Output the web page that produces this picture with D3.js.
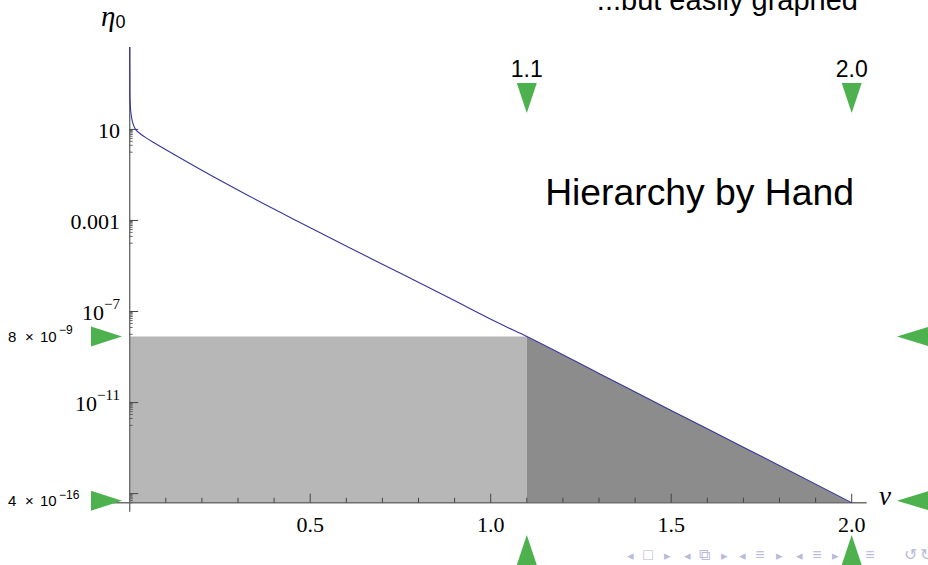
<!DOCTYPE html>
<html lang="en">
<head>
  <meta charset="UTF-8">
  <script src="https://d3js.org/d3.v7.min.js"></script>
  <style>
    body { margin: 0; background: #fff; }
    .serif { font-family: "Liberation Serif", "DejaVu Serif", serif; }
    .sans { font-family: "Liberation Sans", Arial, sans-serif; }
  </style>
  <title>Hierarchy by Hand</title>
</head>
<body>
  <svg id="chart" width="928" height="565"></svg>
  <script>
    // curve eta0(nu)
    var nu  = [0.00014, 0.00055, 0.00166, 0.00416, 0.00776, 0.0147, 0.0285, 0.0424, 0.0701, 0.1255, 0.1947, 0.3332, 0.4718, 0.6103, 0.7488, 0.8873, 1.0258, 1.1, 1.3, 1.5, 1.7, 2.0];
    var eta = [4.17e4, 540, 118, 43, 21.2, 11.0, 6.6, 4.6, 2.46, 0.75, 0.177, 0.0113, 8.15e-4, 6.2e-5, 4.9e-6, 3.8e-7, 2.9e-8, 8e-9, 1.9e-10, 4.5e-12, 1.1e-13, 4e-16];

    var xTicks = [0.5, 1.0, 1.5, 2.0];
    var xMinor = [0.1, 0.2, 0.3, 0.4, 0.6, 0.7, 0.8, 0.9, 1.1, 1.2, 1.3, 1.4, 1.6, 1.7, 1.8, 1.9];
    var yExp = [1, -3, -7, -11, -15];
    var yLabels = [["10", ""], ["0.001", ""], ["10", "\u22127"], ["10", "\u221211"], null];

    // highlighted values
    var nuMarks = [1.1, 2.0];
    var nuMarkLabels = ["1.1", "2.0"];
    var etaMarks = [8e-9, 4e-16];
    var etaMarkLabels = [["8", "10", "\u22129"], ["4", "10", "\u221216"]];

    var navGlyphs = ["\u25c2", "\u25a1", "\u25b8", "\u25c2", "\u29c9", "\u25b8", "\u25c2", "\u2261", "\u25b8", "\u25c2", "\u2261", "\u25b8", "\u2261", "\u21ba", "\u21bb"];
    var navX = [630, 648, 667, 687, 704, 724, 742, 760, 779, 799, 817, 835, 870, 910, 926];

    var svg = d3.select("#chart");
    var green = "#4db24d";

    var x = d3.scaleLinear().domain([0, 2.0]).range([129.7, 851.7]);
    var y = d3.scaleLog().domain([4e-16, Math.pow(10, 4.62)]).range([502.7, 47]);

    var pts = nu.map(function (d, i) { return [d, eta[i]]; });
    var base = y.domain()[0];

    // light grey box up to 8e-9 left of nu = 1.1
    svg.append("rect")
      .attr("x", x(0))
      .attr("y", y(etaMarks[0]))
      .attr("width", x(nuMarks[0]) - x(0))
      .attr("height", y(base) - y(etaMarks[0]))
      .attr("fill", "#b7b7b7");

    // dark grey under curve from 1.1 to 2.0
    var area = d3.area()
      .x(function (d) { return x(d[0]); })
      .y0(y(base))
      .y1(function (d) { return y(d[1]); });
    svg.append("path")
      .datum(pts.filter(function (d) { return d[0] >= nuMarks[0]; }))
      .attr("d", area)
      .attr("fill", "#8c8c8c");

    // axes
    var axisCol = "#6e6e6e";
    svg.append("line")
      .attr("x1", 113).attr("x2", 866.7)
      .attr("y1", y(base)).attr("y2", y(base))
      .attr("stroke", axisCol).attr("stroke-width", 1.4);
    svg.append("line")
      .attr("x1", x(0)).attr("x2", x(0))
      .attr("y1", 47).attr("y2", 511.7)
      .attr("stroke", axisCol).attr("stroke-width", 1.4);

    // x ticks
    svg.selectAll(".xminor").data(xMinor).enter().append("line")
      .attr("x1", x).attr("x2", x)
      .attr("y1", y(base)).attr("y2", y(base) - 5)
      .attr("stroke", "#444").attr("stroke-width", 1);
    svg.selectAll(".xmajor").data(xTicks).enter().append("line")
      .attr("x1", x).attr("x2", x)
      .attr("y1", y(base)).attr("y2", y(base) - 9)
      .attr("stroke", "#444").attr("stroke-width", 1);
    svg.selectAll(".xlab").data(xTicks).enter().append("text")
      .attr("class", "serif")
      .attr("x", x).attr("y", 531.7)
      .attr("text-anchor", "middle")
      .attr("font-size", 22)
      .text(function (d) { return d.toFixed(1); });

    // y ticks: major + log minor ticks below each
    yExp.forEach(function (k, i) {
      var v = Math.pow(10, k);
      svg.append("line")
        .attr("x1", x(0)).attr("x2", x(0) + 8.5)
        .attr("y1", y(v)).attr("y2", y(v))
        .attr("stroke", "#444").attr("stroke-width", 1);
      d3.range(1, 10).forEach(function (m) {
        var mv = m * Math.pow(10, k - 1);
        if (mv < base) return;
        svg.append("line")
          .attr("x1", x(0)).attr("x2", x(0) + 3)
          .attr("y1", y(mv)).attr("y2", y(mv))
          .attr("stroke", "#555").attr("stroke-width", 0.9);
      });
      var lab = yLabels[i];
      if (!lab) return;
      var t = svg.append("text")
        .attr("class", "serif")
        .attr("x", 120).attr("y", y(v) + 8.5)
        .attr("text-anchor", "end")
        .attr("font-size", 22);
      t.append("tspan").text(lab[0]);
      if (lab[1]) {
        t.append("tspan").attr("font-size", 15).attr("dy", -11).text(lab[1]);
      }
    });

    // the curve
    var line = d3.line()
      .x(function (d) { return x(d[0]); })
      .y(function (d) { return y(d[1]); })
      .curve(d3.curveMonotoneX);
    svg.append("path")
      .datum(pts)
      .attr("d", line)
      .attr("fill", "none")
      .attr("stroke", "#35359a")
      .attr("stroke-width", 1.1);

    // axis labels
    var yl = svg.append("text").attr("x", 101).attr("y", 26);
    yl.append("tspan").attr("class", "serif").attr("font-style", "italic").attr("font-size", 29).text("\u03b7");
    yl.append("tspan").attr("class", "sans").attr("font-size", 18).attr("dy", 2).text("0");

    svg.append("text")
      .attr("class", "serif")
      .attr("x", 879).attr("y", 505)
      .attr("font-style", "italic")
      .attr("font-size", 27)
      .text("\u03bd");

    // titles
    svg.append("text")
      .attr("class", "sans")
      .attr("x", 858).attr("y", 10)
      .attr("text-anchor", "end")
      .attr("font-size", 29)
      .text("...but easily graphed");
    svg.append("text")
      .attr("class", "sans")
      .attr("x", 854).attr("y", 205)
      .attr("text-anchor", "end")
      .attr("font-size", 37.3)
      .text("Hierarchy by Hand");

    // green markers along nu
    nuMarks.forEach(function (v, i) {
      var cx = x(v);
      svg.append("path")
        .attr("d", "M" + (cx - 10) + ",83 L" + (cx + 10) + ",83 L" + cx + ",113 Z")
        .attr("fill", green);
      svg.append("path")
        .attr("d", "M" + (cx - 10) + ",565 L" + (cx + 10) + ",565 L" + cx + ",535 Z")
        .attr("fill", green);
      svg.append("text")
        .attr("class", "sans")
        .attr("x", cx).attr("y", 77)
        .attr("text-anchor", "middle")
        .attr("font-size", 23)
        .text(nuMarkLabels[i]);
    });

    // green markers along eta
    etaMarks.forEach(function (v, i) {
      var cy = y(v) - (i === 1 ? 2 : 0);
      svg.append("path")
        .attr("d", "M91," + (cy - 10) + " L91," + (cy + 10) + " L122," + cy + " Z")
        .attr("fill", green);
      svg.append("path")
        .attr("d", "M930," + (cy - 10) + " L930," + (cy + 10) + " L897," + cy + " Z")
        .attr("fill", green);
      var lab = etaMarkLabels[i];
      var g = svg.append("g").attr("class", "sans").attr("font-size", 15);
      g.append("text").attr("x", 8).attr("y", cy + 5.5).text(lab[0]);
      g.append("text").attr("x", 25).attr("y", cy + 5.5).text("\u00d7");
      g.append("text").attr("x", 40).attr("y", cy + 5.5).text(lab[1]);
      g.append("text").attr("x", 59).attr("y", cy - 2).attr("font-size", 12).text(lab[2]);
    });

    // beamer navigation symbols
    svg.selectAll(".nav").data(navGlyphs).enter().append("text")
      .attr("class", "sans")
      .attr("x", function (d, i) { return navX[i]; })
      .attr("y", 560)
      .attr("text-anchor", "middle")
      .attr("font-size", function (d) { return (d === "\u25c2" || d === "\u25b8") ? 13 : 16; })
      .attr("fill", "#b9b9dc")
      .text(function (d) { return d; });
  </script>
</body>
</html>
